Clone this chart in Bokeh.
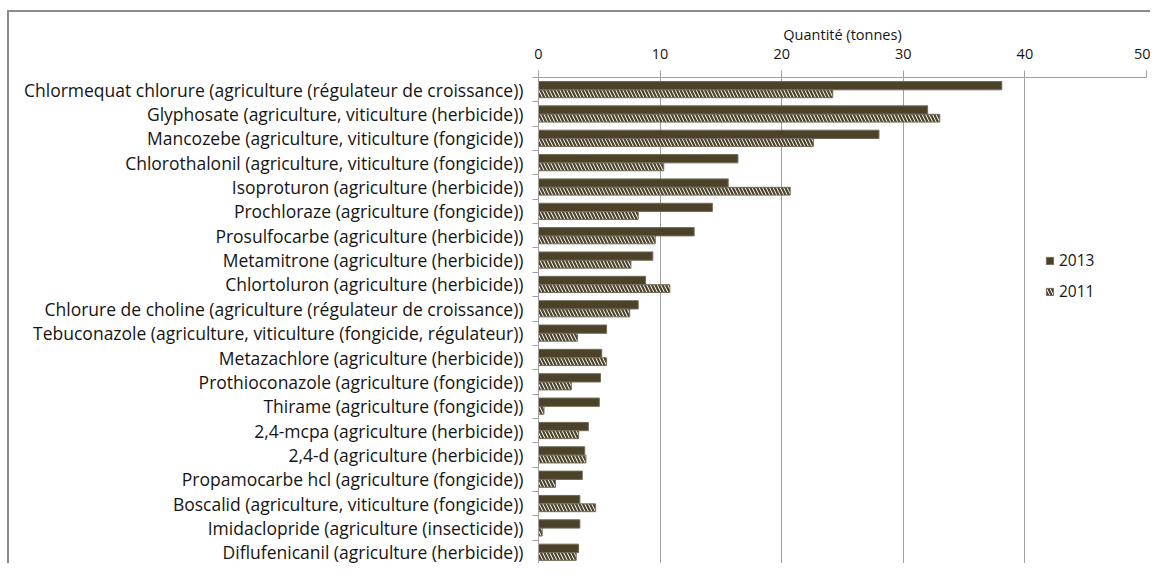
from bokeh.plotting import figure
from bokeh.models import Range1d, FixedTicker, Legend, LegendItem, ColumnDataSource
from bokeh.transform import dodge
from bokeh.embed import file_html
from bokeh.resources import INLINE

substances = [
    "Chlormequat chlorure (agriculture (régulateur de croissance))",
    "Glyphosate (agriculture, viticulture (herbicide))",
    "Mancozebe (agriculture, viticulture (fongicide))",
    "Chlorothalonil (agriculture, viticulture (fongicide))",
    "Isoproturon (agriculture (herbicide))",
    "Prochloraze (agriculture (fongicide))",
    "Prosulfocarbe (agriculture (herbicide))",
    "Metamitrone (agriculture (herbicide))",
    "Chlortoluron (agriculture (herbicide))",
    "Chlorure de choline (agriculture (régulateur de croissance))",
    "Tebuconazole (agriculture, viticulture (fongicide, régulateur))",
    "Metazachlore (agriculture (herbicide))",
    "Prothioconazole (agriculture (fongicide))",
    "Thirame (agriculture (fongicide))",
    "2,4-mcpa (agriculture (herbicide))",
    "2,4-d (agriculture (herbicide))",
    "Propamocarbe hcl (agriculture (fongicide))",
    "Boscalid (agriculture, viticulture (fongicide))",
    "Imidaclopride (agriculture (insecticide))",
    "Diflufenicanil (agriculture (herbicide))",
]
q2013 = [38.1, 32.0, 28.0, 16.4, 15.6, 14.3, 12.8, 9.4, 8.8, 8.2,
         5.6, 5.2, 5.1, 5.0, 4.1, 3.8, 3.6, 3.4, 3.4, 3.3]
q2011 = [24.2, 33.0, 22.6, 10.3, 20.7, 8.2, 9.6, 7.6, 10.8, 7.5,
         3.2, 5.6, 2.7, 0.45, 3.3, 3.9, 1.4, 4.7, 0.3, 3.1]
x_ticks = [0, 10, 20, 30, 40, 50]
series = ["2013", "2011"]
axis_title = "Quantité (tonnes)"

FONT = "Open Sans"
DARK = "#4b4229"
GRID = "#a0a0a0"
TXT = "#151515"

n = len(substances)
pos = list(range(n))
src = ColumnDataSource(dict(pos=pos, name=substances, v2013=q2013, v2011=q2011))

W, H = 1143, 553
p = figure(width=W, height=H, output_backend="svg", toolbar_location=None,
           x_range=Range1d(x_ticks[0], x_ticks[-1]),
           y_range=Range1d(n - 0.5, -0.5),
           x_axis_location="above",
           min_border_left=529, min_border_top=65,
           min_border_right=6, min_border_bottom=1)
p.styles = {"border-top": "2px solid #8c8c8c", "border-left": "2px solid #8c8c8c",
            "margin-top": "10px", "margin-left": "7px"}
p.outline_line_color = None
p.background_fill_color = "white"
p.border_fill_color = "white"

r13 = p.hbar(y=dodge("pos", -0.165, range=p.y_range), right="v2013", left=0,
             height=0.34, source=src, fill_color=DARK, line_color="#716a55",
             line_width=1)
r11 = p.hbar(y=dodge("pos", 0.17, range=p.y_range), right="v2011", left=0,
             height=0.32, source=src, fill_color="white", line_color="#716a55",
             line_width=1, hatch_pattern="left_diagonal_line", hatch_color=DARK,
             hatch_scale=7, hatch_weight=2.2)

# x axis (top)
xa = p.xaxis[0]
xa.ticker = FixedTicker(ticks=x_ticks, minor_ticks=[])
xa.axis_label = axis_title
xa.axis_label_text_font = FONT
xa.axis_label_text_font_size = "14.5px"
xa.axis_label_text_font_style = "normal"
xa.axis_label_text_color = TXT
xa.axis_label_standoff = 2
xa.major_label_text_font = FONT
xa.major_label_text_font_size = "14.5px"
xa.major_label_text_color = TXT
xa.major_label_standoff = 12
xa.major_tick_out = 7
xa.major_tick_in = 0
xa.minor_tick_line_color = None
xa.major_tick_line_color = GRID
xa.axis_line_color = GRID

# y axis (left), labels at category centres, tick marks at boundaries
ya = p.yaxis[0]
ya.ticker = FixedTicker(ticks=pos, minor_ticks=[i - 0.5 for i in range(n + 1)])
ya.major_label_overrides = {i: s for i, s in zip(pos, substances)}
ya.major_label_text_font = FONT
ya.major_label_text_font_size = "17.5px"
ya.major_label_text_color = TXT
ya.major_label_standoff = 9
ya.major_tick_line_color = None
ya.major_tick_out = 0
ya.major_tick_in = 0
ya.minor_tick_line_color = GRID
ya.minor_tick_out = 6
ya.minor_tick_in = 0
ya.axis_line_color = GRID

p.xgrid.ticker = FixedTicker(ticks=x_ticks)
p.xgrid.grid_line_color = GRID
p.ygrid.grid_line_color = None

legend = Legend(items=[LegendItem(label=series[0], renderers=[r13]),
                       LegendItem(label=series[1], renderers=[r11])],
                location=(507, 262), orientation="vertical",
                padding=0, margin=0, spacing=9,
                glyph_width=9, glyph_height=9, label_height=20,
                label_standoff=5,
                label_text_font=FONT, label_text_font_size="15.5px",
                label_text_color=TXT,
                background_fill_alpha=0, border_line_color=None)
p.add_layout(legend, "center")

open("out.html", "w").write(file_html(p, INLINE))
